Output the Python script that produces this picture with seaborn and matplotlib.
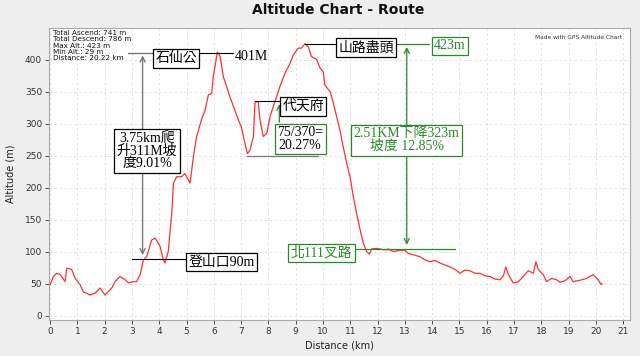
import matplotlib
matplotlib.use("Agg")
import matplotlib.pyplot as plt
import seaborn as sns
import pandas as pd

distance_km = [0, 0.12, 0.24, 0.37, 0.55, 0.61, 0.79, 0.92, 1.1, 1.22, 1.47, 1.65, 1.83, 2.01, 2.26, 2.38,
               2.56, 2.75, 2.87, 3.05, 3.17, 3.3, 3.42, 3.54, 3.72, 3.85, 4.03, 4.15, 4.21, 4.33, 4.46, 4.52,
               4.64, 4.82, 4.94, 5.13, 5.25, 5.37, 5.56, 5.68, 5.8, 5.92, 5.98, 6.13, 6.23, 6.35, 6.47, 6.59,
               6.72, 6.9, 7.02, 7.14, 7.23, 7.33, 7.45, 7.51, 7.63, 7.69, 7.81, 7.94, 8.06, 8.18, 8.3, 8.42,
               8.61, 8.79, 8.91, 9.09, 9.21, 9.34, 9.46, 9.58, 9.77, 9.89, 10.01, 10.07, 10.26, 10.38, 10.5,
               10.62, 10.74, 10.87, 10.99, 11.11, 11.23, 11.36, 11.48, 11.6, 11.7, 11.78, 11.97, 12.09, 12.21,
               12.33, 12.39, 12.58, 12.82, 13.0, 13.13, 13.31, 13.55, 13.74, 13.92, 14.1, 14.29, 14.47, 14.65,
               14.84, 15.02, 15.2, 15.38, 15.57, 15.75, 15.93, 16.12, 16.3, 16.48, 16.61, 16.7, 16.79, 16.97,
               17.16, 17.34, 17.52, 17.71, 17.8, 17.89, 18.07, 18.19, 18.38, 18.56, 18.68, 18.86, 19.05, 19.17,
               19.41, 19.66, 19.9, 20.08, 20.2, 20.22]
altitude_m = [48, 61, 66, 64, 53, 74, 72, 58, 48, 37, 32, 35, 43, 32, 43, 53,
              61, 56, 51, 53, 53, 64, 87, 92, 118, 121, 108, 87, 82, 100, 160, 207,
              217, 217, 222, 207, 248, 280, 308, 321, 345, 347, 373, 412, 405, 373, 358, 342,
              327, 306, 293, 269, 253, 259, 280, 334, 334, 306, 280, 285, 311, 327, 342, 358,
              379, 394, 407, 418, 418, 425, 420, 405, 400, 387, 381, 360, 350, 332, 311,
              290, 264, 238, 217, 186, 160, 134, 113, 100, 96, 104, 105, 104, 103,
              103, 104, 100, 102, 102, 97, 95, 92, 87, 84, 86, 82, 79, 76,
              72, 66, 71, 70, 66, 66, 62, 61, 57, 56, 62, 76, 64, 51,
              53, 61, 70, 66, 84, 72, 64, 53, 58, 56, 52, 54, 61, 53,
              55, 58, 64, 56, 48, 50]

x_ticks = list(range(0, 22))
y_ticks = list(range(0, 450, 50))

stats_text = ["Total Ascend: 741 m", "Total Descend: 786 m", "Max Alt.: 423 m",
              "Min Alt.: 29 m", "Distance: 20.22 km"]

df = pd.DataFrame({"Distance (km)": distance_km, "Altitude (m)": altitude_m})

sns.set_theme(style="white")
plt.rcParams["font.family"] = ["DejaVu Sans", "Noto Sans CJK TC"]

fig = plt.figure(figsize=(6.4, 3.56), dpi=100, facecolor="#eeeeee")
ax = fig.add_axes([49 / 640, 1 - 320 / 356, (630 - 49) / 640, (320 - 28) / 356])
ax.set_facecolor("white")

sns.lineplot(data=df, x="Distance (km)", y="Altitude (m)", ax=ax, color="#ff3030", linewidth=0.9)

ax.set_xlim(-0.04, 21.25)
ax.set_ylim(-7, 449.5)
ax.set_xticks(x_ticks)
ax.set_yticks(y_ticks)
ax.tick_params(axis="both", labelsize=6.5, length=3, width=0.6, colors="#333333", pad=2, bottom=True, left=True)
ax.grid(True, linestyle=(0, (3, 3)), color="#dddddd", linewidth=0.6)
for s in ax.spines.values():
    s.set_color("#aaaaaa")
    s.set_linewidth(0.8)
ax.set_xlabel("Distance (km)", fontsize=7, color="#222222", labelpad=3)
ax.set_ylabel("Altitude (m)", fontsize=7, color="#222222", labelpad=7)

fig.text(0.528, 0.972, "Altitude Chart - Route", ha="center", va="center",
         fontsize=10, fontweight="bold", color="#111111")

ax.text(0.11, 446, "\n".join(stats_text), ha="left", va="top", fontsize=5.2,
        color="#111111", linespacing=1.05)
ax.text(20.95, 434, "Made with GPS Altitude Chart", ha="right", va="center", fontsize=4.2, color="#333333")

serif_cjk = ["Liberation Serif", "Noto Sans CJK TC"]
green = "#2a8a2a"
gray = "#777777"

def box(x, y, s, ec="black", tc="black", fs=10, ls=1.0):
    ax.text(x, y, s, ha="center", va="center", fontsize=fs, color=tc, family=serif_cjk,
            linespacing=ls, fontweight="medium",
            bbox=dict(boxstyle="square,pad=0.18", fc="white", ec=ec, lw=0.9))

# left climb annotation
ax.annotate("", xy=(3.39, 411), xytext=(3.39, 90),
            arrowprops=dict(arrowstyle="<->", color=gray, lw=1.0, mutation_scale=9))
ax.plot([2.86, 3.85], [411, 411], color=gray, lw=1.0)
ax.plot([2.99, 5.0], [88, 88], color="black", lw=0.8)
ax.plot([5.38, 6.7], [411, 411], color="black", lw=0.8)
box(4.62, 402, "石仙公")
ax.text(6.78, 405, "401M", ha="left", va="center", fontsize=10, family=serif_cjk, color="black")
box(3.55, 257, "3.75km爬\n升311M坡\n度9.01%", ls=0.95)
box(6.29, 83, "登山口90m")

# middle annotation
ax.plot([7.51, 8.5], [335, 335], color="black", lw=0.8)
ax.annotate("", xy=(8.4, 335), xytext=(8.4, 298),
            arrowprops=dict(arrowstyle="->", color=green, lw=0.9, mutation_scale=9))
ax.plot([7.2, 9.83], [250, 250], color=gray, lw=0.9)
box(9.27, 327, "代天府")
box(9.16, 276, "75/370=\n20.27%", ec=green, ls=0.95)

# right descent annotation
ax.plot([9.34, 10.5], [424.5, 424.5], color="black", lw=0.8)
ax.plot([12.64, 13.88], [424.5, 424.5], color=green, lw=0.9)
ax.annotate("", xy=(13.07, 424), xytext=(13.07, 106),
            arrowprops=dict(arrowstyle="<->", color=green, lw=0.9, mutation_scale=9))
ax.plot([11.05, 14.84], [104, 104], color=green, lw=0.9)
box(11.57, 419, "山路盡頭")
box(14.65, 422, "423m", ec=green, tc=green)
box(13.07, 274, "2.51KM下降323m\n坡度 12.85%", ec=green, tc=green, ls=0.95)
box(9.95, 98, "北111叉路", ec=green, tc=green)

fig.savefig("out.png", dpi=100, facecolor=fig.get_facecolor())
